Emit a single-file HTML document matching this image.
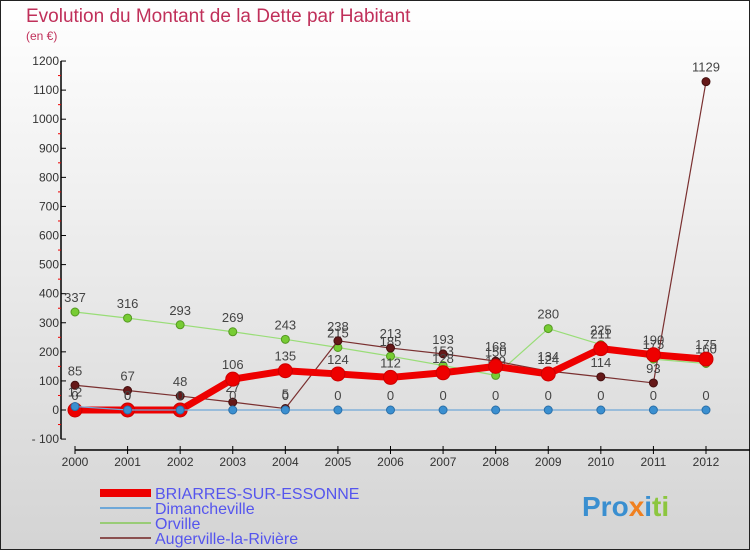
<!DOCTYPE html>
<html><head><meta charset="utf-8"><style>
html,body{margin:0;padding:0}
body{width:750px;height:550px;overflow:hidden;font-family:"Liberation Sans",sans-serif}
svg{display:block}
</style></head><body>
<svg id="chart" width="750" height="550" xmlns="http://www.w3.org/2000/svg">
<defs><linearGradient id="bg" x1="0" y1="0" x2="0" y2="1"><stop offset="0" stop-color="#ffffff"/><stop offset="1" stop-color="#d4d4d4"/></linearGradient></defs>
<rect x="0.5" y="0.5" width="749" height="549" fill="url(#bg)" stroke="#222" stroke-width="1"/>
<text x="26" y="22" font-size="19" fill="#c0305a">Evolution du Montant de la Dette par Habitant</text>
<text x="26" y="40" font-size="12" fill="#c0305a">(en €)</text>
<g id="axes"></g>
<g id="series"></g>
<g id="legend"></g>
<text x="582" y="516" font-size="28" font-weight="bold" fill="#3a8fd0">Pro<tspan fill="#f08020">x</tspan><tspan fill="#3a8fd0">i</tspan><tspan fill="#8cc63f">ti</tspan></text>
</svg>
<script>
const years=[2000,2001,2002,2003,2004,2005,2006,2007,2008,2009,2010,2011,2012];
const briarres=[0,0,0,106,135,124,112,128,150,124,211,190,175];
const dimancheville=[12,0,0,0,0,0,0,0,0,0,0,0,0];
const orville=[337,316,293,269,243,215,185,153,119,280,225,175,160];
const augerville=[85,67,48,27,5,238,213,193,168,134,114,93,1129];
const yTicks=[-100,0,100,200,300,400,500,600,700,800,900,1000,1100,1200];
const NS="http://www.w3.org/2000/svg";
function X(i){return 75+i*(706-75)/(years.length-1);}
function Y(v){return 410-v*0.2908;}
function mk(tag,attrs,parent){const e=document.createElementNS(NS,tag);for(const k in attrs)e.setAttribute(k,attrs[k]);parent.appendChild(e);return e;}
const axes=document.getElementById('axes');
let l=mk('line',{x1:61,y1:Y(1200),x2:61,y2:Y(-100),stroke:'#000','stroke-width':1.5},axes);


yTicks.forEach((t,i)=>{
  mk('line',{x1:61,y1:Y(t),x2:66,y2:Y(t),stroke:'#000'},axes);
  if(i<yTicks.length-1)mk('line',{x1:58,y1:Y(t+50),x2:61,y2:Y(t+50),stroke:'#e00'},axes);
  const tx=mk('text',{x:59,y:Y(t)+4,'font-size':12,'text-anchor':'end',fill:'#333'},axes);
  tx.textContent=t<0?'- '+(-t):t;
  
  
});
l=mk('line',{x1:75,y1:450,x2:750,y2:450,stroke:'#000','stroke-width':1.5},axes);


years.forEach((y,i)=>{
  mk('line',{x1:X(i),y1:446,x2:X(i),y2:454,stroke:'#000'},axes);
  const tx=mk('text',{x:X(i),y:466,'font-size':12,'text-anchor':'middle',fill:'#333'},axes);
  tx.textContent=y;
  
  
});
const sg=document.getElementById('series');
function series(name,vals,color,w,r,dot,dotStroke){
  const g=mk('g',{},sg);
  
  
  mk('polyline',{points:vals.map((v,i)=>X(i)+','+Y(v)).join(' '),fill:'none',stroke:color,'stroke-width':w,'stroke-linejoin':'round'},g);
  vals.forEach((v,i)=>{
    const c=mk('circle',{cx:X(i),cy:Y(v),r:r,fill:dot,stroke:dotStroke,'stroke-width':1},g);
    
    
    const t=mk('text',{x:X(i),y:Y(v)-10,'font-size':13,'text-anchor':'middle',fill:'#444'},g);
    t.textContent=v;
    
    
  });
}
series('series-orville',orville,'#99dd77',1.2,4,'#77cc33','#559922');
series('series-augerville',augerville,'#7a3030',1.2,4,'#661818','#441010');
series('series-briarres',briarres,'#ee0000',7,7,'#ee0000','#cc0000');
series('series-dimancheville',dimancheville,'#6fa8d8',1.2,4,'#3a8fd0','#2a6fa8');
const lg=document.getElementById('legend');
const items=[['BRIARRES-SUR-ESSONNE','#ee0000',8],['Dimancheville','#6fa8d8',2],['Orville','#99cc77',2],['Augerville-la-Rivière','#8a5050',2]];
items.forEach((it,i)=>{
  const yy=493+i*15;
  const g=mk('g',{},lg);
  
  
  mk('line',{x1:100,y1:yy,x2:151,y2:yy,stroke:it[1],'stroke-width':it[2]},g);
  const t=mk('text',{x:155,y:yy+6,'font-size':16,fill:'#5555ee'},g);
  t.textContent=it[0];
});
</script>
</body></html>
